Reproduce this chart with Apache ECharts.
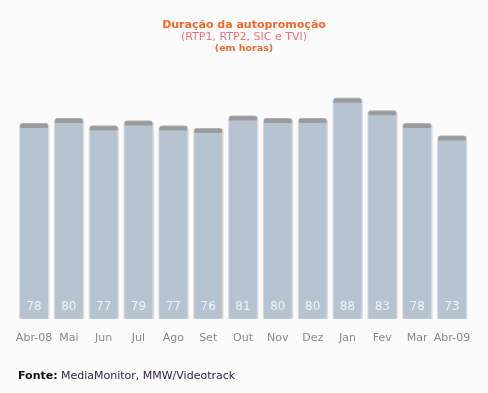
<!DOCTYPE html>
<html>
<head>
<meta charset="utf-8">
<script src="https://cdn.jsdelivr.net/npm/echarts@6/dist/echarts.min.js"></script>
<style>
html,body{margin:0;padding:0;background:#fbfbfb;}
#c{width:488px;height:393px;}
</style>
</head>
<body>
<div id="c"></div>
<script>
const categories = ['Abr-08','Mai','Jun','Jul','Ago','Set','Out','Nov','Dez','Jan','Fev','Mar','Abr-09'];
const values = [78, 80, 77, 79, 77, 76, 81, 80, 80, 88, 83, 78, 73];

const chart = echarts.init(document.getElementById('c'), null, {renderer: 'canvas'});
const FONT = '"DejaVu Sans", Verdana, sans-serif';

function renderItem(params, api) {
  const idx = api.value(0);
  const v = api.value(1);
  const top = api.coord([idx, v]);
  const base = api.coord([idx, 0]);
  const bw = api.size([1, 0])[0] * 0.8;
  const x = top[0] - bw / 2;
  const y = top[1];
  const h = base[1] - top[1];
  return {
    type: 'group',
    children: [
      {type: 'rect', shape: {x: x - 1, y: y, width: bw + 2.5, height: h, r: [4,4,0,0]},
        style: {fill: '#dcdcdc'}},
      {type: 'rect', shape: {x: x, y: y + 1, width: bw, height: h - 1, r: [3,3,0,0]},
        style: {fill: '#b6c3d1'}},
      {type: 'rect', shape: {x: x, y: y, width: bw, height: 5, r: [3,3,0,0]},
        style: {fill: new echarts.graphic.LinearGradient(0,0,0,1,[
          {offset:0, color:'#c0c0c0'},{offset:0.3, color:'#999999'},{offset:1, color:'#9a9ea4'}])}},
      {type: 'text', x: top[0], y: base[1] - 12,
        style: {text: String(values[idx]), fill: '#eef2f6', font: '12px ' + FONT,
          align: 'center', verticalAlign: 'middle'}}
    ]
  };
}

chart.setOption({
  backgroundColor: '#fbfbfb',
  animation: false,
  title: [
    {text: 'Duração da autopromoção', left: 'center', top: 15,
      textStyle: {color: '#f26a2a', fontSize: 11, fontWeight: 'bold', fontFamily: FONT}},
    {text: '(RTP1, RTP2, SIC e TVI)', left: 'center', top: 27,
      textStyle: {color: '#f0727e', fontSize: 11, fontWeight: 'normal', fontFamily: FONT}},
    {text: '(em horas)', left: 'center', top: 39,
      textStyle: {color: '#f26a2a', fontSize: 9.5, fontWeight: 'bold', fontFamily: FONT}}
  ],
  graphic: [
    {type: 'text', left: 18, top: 370,
      style: {text: '{b|Fonte:} {n|MediaMonitor, MMW/Videotrack}',
        rich: {b: {fontWeight: 'bold', fontSize: 11, fill: '#111', fontFamily: FONT},
               n: {fontSize: 11, fill: '#2a1f3a', fontFamily: FONT}}}}
  ],
  grid: {left: 16.6, right: 18.6, top: 67.7, bottom: 74.3},
  xAxis: {
    type: 'category', data: categories,
    axisLine: {show: false}, axisTick: {show: false},
    axisLabel: {color: '#888', fontSize: 11, fontFamily: FONT, margin: 14, interval: 0}
  },
  yAxis: {type: 'value', min: 0, max: 100, show: false, splitLine: {show: false}},
  series: [{
    type: 'custom',
    renderItem: renderItem,
    encode: {x: 0, y: 1},
    data: values.map((v, i) => [i, v])
  }]
});
</script>
</body>
</html>
